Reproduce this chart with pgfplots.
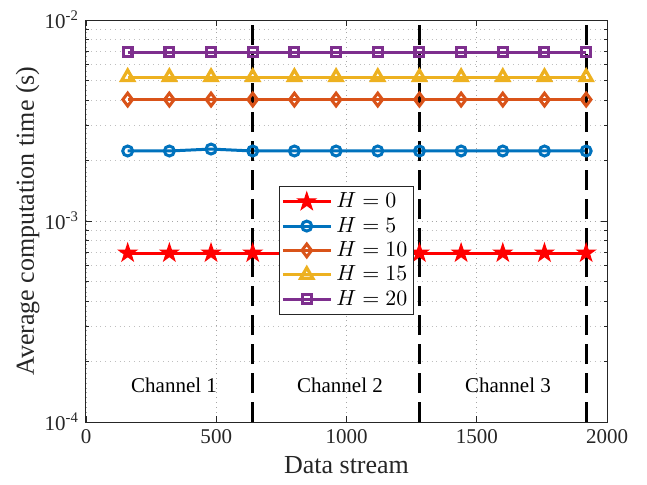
\documentclass[border=0pt]{standalone}
\usepackage{fontspec}
\setmainfont{Liberation Serif}
\usepackage{pgfplots}
\pgfplotsset{compat=1.18}
\definecolor{mred}{rgb}{1,0,0}
\definecolor{mblue}{rgb}{0,0.447,0.741}
\definecolor{morange}{rgb}{0.85,0.325,0.098}
\definecolor{myellow}{rgb}{0.929,0.694,0.125}
\definecolor{mpurple}{rgb}{0.494,0.184,0.556}
\definecolor{maxis}{rgb}{0.15,0.15,0.15}
\pgfdeclareplotmark{pentagram}{%
 \pgfpathmoveto{\pgfpointpolar{90}{\pgfplotmarksize}}%
 \pgfpathlineto{\pgfpointpolar{126}{0.382\pgfplotmarksize}}%
 \pgfpathlineto{\pgfpointpolar{162}{\pgfplotmarksize}}%
 \pgfpathlineto{\pgfpointpolar{198}{0.382\pgfplotmarksize}}%
 \pgfpathlineto{\pgfpointpolar{234}{\pgfplotmarksize}}%
 \pgfpathlineto{\pgfpointpolar{270}{0.382\pgfplotmarksize}}%
 \pgfpathlineto{\pgfpointpolar{306}{\pgfplotmarksize}}%
 \pgfpathlineto{\pgfpointpolar{342}{0.382\pgfplotmarksize}}%
 \pgfpathlineto{\pgfpointpolar{18}{\pgfplotmarksize}}%
 \pgfpathlineto{\pgfpointpolar{54}{0.382\pgfplotmarksize}}%
 \pgfpathclose
 \pgfusepathqfillstroke}
\begin{document}
\begin{tikzpicture}
\begin{axis}[
  name=ax,
  scale only axis,
  width=260.5pt, height=201pt,
  xmin=0, xmax=2000,
  ymode=log, ymin=1e-4, ymax=1e-2,
  xtick={0,500,1000,1500,2000},
  ytick={1e-4,1e-3,1e-2},
  yticklabels={10\textsuperscript{-4},10\textsuperscript{-3},10\textsuperscript{-2}},
  /pgf/number format/assume math mode=true,
  /pgf/number format/1000 sep={},
  tick label style={font=\fontsize{10.5}{12}\selectfont, color=maxis},
  label style={font=\fontsize{13}{15}\selectfont, color=maxis},
  xlabel={Data stream},
  ylabel={Average computation time (s)},
  xlabel style={at={(axis description cs:0.5,-0.108)}, anchor=center},
  ylabel style={at={(axis description cs:-0.112,0.5)}, anchor=center},
  tick align=inside,
  major tick length=3pt,
  minor tick length=1.7pt,
  axis line style={color=maxis, line width=0.5pt},
  every tick/.style={color=maxis, line width=0.4pt},
  grid=both,
  major grid style={dotted, color=black!35, line width=0.4pt},
  minor grid style={dotted, color=black!25, line width=0.4pt},
  minor x tick num=0,
  legend cell align=left,
  legend style={at={(rel axis cs:0.370,0.587)}, anchor=north west,
    draw=maxis, line width=0.5pt, fill=white,
    font=\fontsize{10.5}{12}\selectfont,
    inner xsep=1pt, inner ysep=1.5pt,
    nodes={inner ysep=1.6pt, inner xsep=2pt},
    row sep=0pt},
  legend image code/.code={%
    \draw[mark repeat=2,mark phase=2] plot coordinates {(0pt,0pt)(12pt,0pt)(24pt,0pt)};},
]
\addplot[mred, line width=1.5pt, mark=pentagram, mark size=4.6pt, mark options={solid, fill=mred, line width=0.6pt}]
 coordinates {(160,6.93e-4)(320,6.93e-4)(480,6.93e-4)(640,6.93e-4)(800,6.93e-4)(960,6.93e-4)(1120,6.93e-4)(1280,6.93e-4)(1440,6.93e-4)(1600,6.93e-4)(1760,6.93e-4)(1920,6.93e-4)};
\addlegendentry{$H=0$}
\addplot[mblue, line width=1.5pt, mark=o, mark size=2.5pt, mark options={solid, line width=1.5pt}]
 coordinates {(160,2.23e-3)(320,2.23e-3)(480,2.28e-3)(640,2.23e-3)(800,2.23e-3)(960,2.23e-3)(1120,2.23e-3)(1280,2.23e-3)(1440,2.23e-3)(1600,2.23e-3)(1760,2.23e-3)(1920,2.23e-3)};
\addlegendentry{$H=5$}
\addplot[morange, line width=1.5pt, mark=diamond, mark size=3.2pt, mark options={solid, line width=1.5pt}]
 coordinates {(160,4.02e-3)(320,4.02e-3)(480,4.02e-3)(640,4.02e-3)(800,4.02e-3)(960,4.02e-3)(1120,4.02e-3)(1280,4.02e-3)(1440,4.02e-3)(1600,4.02e-3)(1760,4.02e-3)(1920,4.02e-3)};
\addlegendentry{$H=10$}
\addplot[myellow, line width=1.5pt, mark=triangle, mark size=3.5pt, mark options={solid, line width=1.6pt}]
 coordinates {(160,5.2e-3)(320,5.2e-3)(480,5.2e-3)(640,5.2e-3)(800,5.2e-3)(960,5.2e-3)(1120,5.2e-3)(1280,5.2e-3)(1440,5.2e-3)(1600,5.2e-3)(1760,5.2e-3)(1920,5.2e-3)};
\addlegendentry{$H=15$}
\addplot[mpurple, line width=1.5pt, mark=square, mark size=2.2pt, mark options={solid, line width=1.6pt}]
 coordinates {(160,6.93e-3)(320,6.93e-3)(480,6.93e-3)(640,6.93e-3)(800,6.93e-3)(960,6.93e-3)(1120,6.93e-3)(1280,6.93e-3)(1440,6.93e-3)(1600,6.93e-3)(1760,6.93e-3)(1920,6.93e-3)};
\addlegendentry{$H=20$}
\addplot[black, line width=1.5pt, dash pattern=on 10pt off 4.5pt, forget plot] coordinates {(640,1e-4)(640,1e-2)};
\addplot[black, line width=1.5pt, dash pattern=on 10pt off 4.5pt, forget plot] coordinates {(1280,1e-4)(1280,1e-2)};
\addplot[black, line width=1.5pt, dash pattern=on 10pt off 4.5pt, forget plot] coordinates {(1920,1e-4)(1920,1e-2)};
\node[font=\fontsize{10.5}{12}\selectfont] at (axis cs:338,1.53e-4) {Channel 1};
\node[font=\fontsize{10.5}{12}\selectfont] at (axis cs:975,1.53e-4) {Channel 2};
\node[font=\fontsize{10.5}{12}\selectfont] at (axis cs:1620,1.53e-4) {Channel 3};
\end{axis}
\pgfresetboundingbox
\path ([shift={(-43pt,-31.5pt)}]ax.south west) rectangle ([shift={(20pt,10pt)}]ax.north east);
\end{tikzpicture}
\end{document}
